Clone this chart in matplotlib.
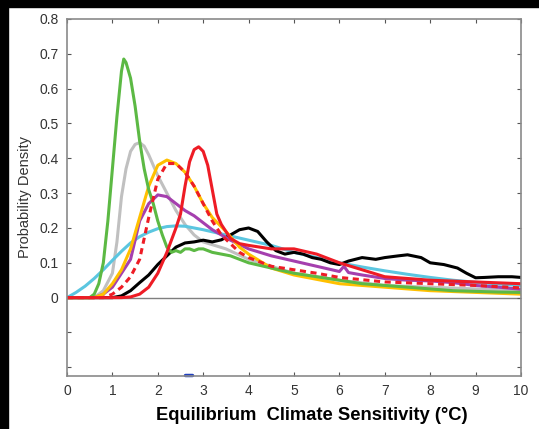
import numpy as np
import matplotlib
matplotlib.use("Agg")
import matplotlib.pyplot as plt
from matplotlib.patches import Rectangle

plt.rcParams['font.family'] = ['Liberation Sans', 'DejaVu Sans']

# curves
green_x = [0, 0.5, 0.6, 0.7, 0.8, 0.9, 1.0, 1.1, 1.2, 1.25, 1.3, 1.4, 1.5, 1.6, 1.7, 1.8, 1.9, 2.0, 2.1, 2.2,
           2.3, 2.4, 2.5, 2.6, 2.7, 2.8, 2.9, 3.0, 3.2, 3.4, 3.6, 3.8, 4.0, 4.5, 5, 5.5, 6, 6.5, 7, 7.5, 8,
           8.5, 9, 9.5, 10]
green_y = [0, 0, 0.01, 0.04, 0.10, 0.22, 0.37, 0.52, 0.65, 0.685, 0.675, 0.63, 0.55, 0.45, 0.37, 0.31, 0.27,
           0.22, 0.18, 0.145, 0.13, 0.135, 0.13, 0.14, 0.14, 0.135, 0.14, 0.14, 0.13, 0.125, 0.12, 0.11, 0.10,
           0.085, 0.07, 0.06, 0.05, 0.04, 0.035, 0.03, 0.025, 0.02, 0.018, 0.016, 0.015]

gray_x = [0, 0.6, 0.8, 1.0, 1.1, 1.2, 1.3, 1.4, 1.5, 1.6, 1.7, 1.8, 1.9, 2.0, 2.2, 2.4, 2.6, 2.8, 3.0, 3.5,
          4, 4.5, 5, 6, 7, 8, 9, 10]
gray_y = [0, 0, 0.02, 0.07, 0.16, 0.29, 0.37, 0.42, 0.44, 0.445, 0.435, 0.41, 0.38, 0.35, 0.30, 0.25, 0.21,
          0.18, 0.16, 0.14, 0.11, 0.09, 0.07, 0.05, 0.035, 0.03, 0.025, 0.02]

yellow_x = [0, 0.6, 0.8, 1.0, 1.2, 1.4, 1.6, 1.8, 2.0, 2.2, 2.4, 2.6, 2.8, 3.0, 3.2, 3.5, 3.6, 3.8, 4.0, 4.5,
            5, 6, 7, 8, 9, 10]
yellow_y = [0, 0, 0.01, 0.04, 0.08, 0.14, 0.23, 0.32, 0.38, 0.395, 0.385, 0.36, 0.32, 0.27, 0.23, 0.19,
            0.175, 0.145, 0.125, 0.085, 0.065, 0.04, 0.03, 0.02, 0.015, 0.01]

reddash_x = [0, 0.8, 1.0, 1.2, 1.4, 1.6, 1.8, 2.0, 2.2, 2.4, 2.6, 2.8, 3.0, 3.2, 3.4, 3.6, 3.8, 4.0, 4.5,
             5, 5.5, 6, 7, 8, 9, 10]
reddash_y = [0, 0, 0.01, 0.03, 0.06, 0.11, 0.23, 0.34, 0.385, 0.385, 0.36, 0.32, 0.27, 0.22, 0.18, 0.155,
             0.13, 0.115, 0.09, 0.08, 0.07, 0.058, 0.045, 0.04, 0.035, 0.028]

red_x = [0, 1.2, 1.4, 1.6, 1.8, 2.0, 2.2, 2.4, 2.5, 2.6, 2.7, 2.8, 2.9, 3.0, 3.1, 3.2, 3.3, 3.4, 3.6, 3.8,
         4.0, 4.5, 5, 5.5, 6, 6.5, 7, 7.5, 8, 9, 10]
red_y = [0, 0, 0.002, 0.01, 0.03, 0.07, 0.13, 0.2, 0.24, 0.32, 0.39, 0.425, 0.433, 0.42, 0.38, 0.31, 0.24,
         0.21, 0.17, 0.155, 0.15, 0.14, 0.14, 0.125, 0.1, 0.08, 0.06, 0.055, 0.05, 0.045, 0.04]

purple_x = [0, 0.6, 0.8, 1.0, 1.2, 1.4, 1.6, 1.8, 2.0, 2.2, 2.4, 2.6, 2.8, 3.0, 3.2, 3.4, 3.6, 4.0, 4.5, 5,
            5.5, 6.0, 6.1, 6.2, 6.5, 7, 7.5, 8, 8.5, 9, 9.5, 10]
purple_y = [0, 0, 0.01, 0.03, 0.07, 0.11, 0.22, 0.27, 0.295, 0.29, 0.27, 0.25, 0.235, 0.215, 0.195, 0.18,
            0.165, 0.14, 0.12, 0.105, 0.09, 0.075, 0.09, 0.072, 0.065, 0.055, 0.05, 0.048, 0.043, 0.035,
            0.03, 0.024]

cyan_x = [0, 0.2, 0.4, 0.6, 0.8, 1.0, 1.2, 1.4, 1.6, 1.8, 2.0, 2.2, 2.4, 2.6, 2.8, 3.0, 3.5, 4.0, 4.5, 5,
          5.5, 6, 6.5, 7, 7.5, 8, 8.5, 9, 9.5, 10]
cyan_y = [0, 0.015, 0.033, 0.055, 0.08, 0.107, 0.133, 0.157, 0.175, 0.188, 0.198, 0.204, 0.206, 0.205,
          0.2, 0.195, 0.18, 0.165, 0.15, 0.13, 0.115, 0.1, 0.088, 0.077, 0.067, 0.058, 0.05, 0.044, 0.039,
          0.035]

black_x = [0, 1.0, 1.2, 1.4, 1.6, 1.8, 2.0, 2.2, 2.4, 2.6, 2.8, 3.0, 3.2, 3.4, 3.6, 3.8, 4.0, 4.2, 4.4,
           4.6, 4.8, 5.0, 5.2, 5.4, 5.6, 5.8, 6.0, 6.2, 6.5, 6.8, 7.0, 7.3, 7.5, 7.8, 8.0, 8.3, 8.6, 8.8,
           9.0, 9.2, 9.5, 9.8, 10]
black_y = [0, 0, 0.005, 0.02, 0.043, 0.065, 0.095, 0.12, 0.145, 0.157, 0.16, 0.165, 0.16, 0.166, 0.18,
           0.195, 0.2, 0.19, 0.16, 0.135, 0.125, 0.13, 0.125, 0.115, 0.11, 0.1, 0.095, 0.105, 0.115, 0.11,
           0.115, 0.12, 0.123, 0.115, 0.1, 0.095, 0.085, 0.07, 0.057, 0.058, 0.06, 0.06, 0.058]

blue_x = [2.6, 2.75]
blue_y = [-0.222, -0.222]

xticks = list(range(0, 11))
yticks = [-0.2, -0.1, 0, 0.1, 0.2, 0.3, 0.4, 0.5, 0.6, 0.7, 0.8]
ylabels = ['', '', '0', '0.1', '0.2', '0.3', '0.4', '0.5', '0.6', '0.7', '0.8']

fig = plt.figure(figsize=(5.39, 4.29), dpi=100)
fig.patches.append(Rectangle((0, 0), 8 / 539, 1, transform=fig.transFigure, color='black', zorder=-1))
fig.patches.append(Rectangle((0, 1 - 7 / 429), 1, 7 / 429, transform=fig.transFigure, color='black', zorder=-1))

ax = fig.add_axes([67 / 539, 53 / 429, 454 / 539, 357 / 429])

ax.axhline(0, color='#7f7f7f', lw=1.0, zorder=1)
lw = 2.2
ax.plot(gray_x, gray_y, color='#c0c0c0', lw=lw)
ax.plot(cyan_x, cyan_y, color='#5bc6e0', lw=lw)
ax.plot(black_x, black_y, color='black', lw=lw)
ax.plot(purple_x, purple_y, color='#a53fae', lw=lw)
ax.plot(yellow_x, yellow_y, color='#ffc000', lw=lw)
ax.plot(green_x, green_y, color='#5cb944', lw=lw)
ax.plot(red_x, red_y, color='#ee1c25', lw=lw)
ax.plot(reddash_x, reddash_y, color='#ee1c25', lw=lw, ls=(0, (2, 1.5)))
ax.plot(blue_x, blue_y, color='#2040c0', lw=2.5, solid_capstyle='round', clip_on=False)

ax.set_xlim(0, 10)
ax.set_ylim(-0.225, 0.8)
ax.set_xticks(xticks)
ax.set_yticks(yticks)
ax.set_yticklabels(ylabels)
ax.tick_params(direction='in', top=True, right=True, length=3, width=0.8, color='#555555',
               labelsize=10, labelcolor='#333333', pad=6)
for s in ax.spines.values():
    s.set_color('#8a8a8a')
    s.set_linewidth(1.2)

ax.set_ylabel('Probability Density', fontsize=10.5, color='#333333', labelpad=5)
fig.text(312 / 539, 1 - 415 / 429, 'Equilibrium  Climate Sensitivity (\u00b0C)', fontsize=13.2,
         fontweight='bold', ha='center', va='center')

fig.savefig('out.png', dpi=100, facecolor='white')
